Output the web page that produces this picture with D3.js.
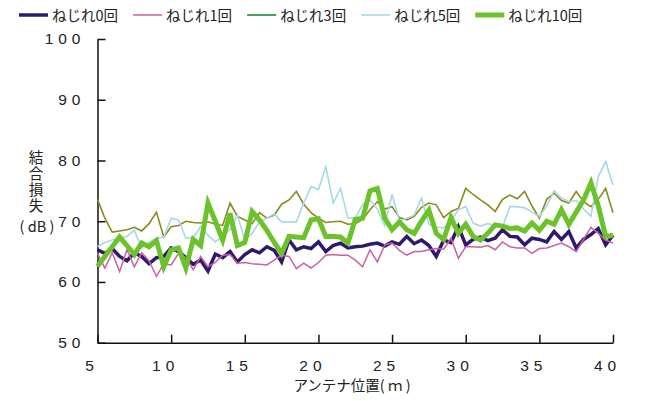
<!DOCTYPE html>
<html>
<head>
<meta charset="utf-8">
<script src="https://cdn.jsdelivr.net/npm/d3@7"></script>
<style>
  html, body { margin: 0; padding: 0; background: #ffffff; }
  svg { display: block; }
  .num { font-family: "Liberation Sans", Arial, sans-serif; font-size: 15.5px; letter-spacing: 5px; fill: #222; }
  .jp { font-family: "Noto Sans CJK JP", sans-serif; font-size: 14.5px; fill: #222; }
</style>
</head>
<body>
<svg id="chart" width="659" height="401"></svg>
<script>
// antenna position (m), one sample every 0.5 m
const positions = d3.range(71).map(i => 5 + i * 0.5);

const seriesNames = ["ねじれ0回", "ねじれ1回", "ねじれ3回", "ねじれ5回", "ねじれ10回"];

// coupling loss (dB) per twist count
const twist0 = [65.3,64.7,65.5,64.2,63.5,64.8,64.2,63.0,64.0,64.2,65.6,65.0,64.0,62.9,63.6,61.8,64.6,64.0,65.0,63.3,
  64.5,65.3,64.8,65.8,65.2,63.3,66.9,65.3,65.8,65.5,66.6,65.0,66.0,66.4,65.6,65.8,65.9,66.2,66.4,65.9,
  66.6,66.2,67.5,66.3,66.9,66.0,64.2,66.9,66.5,69.1,66.1,67.0,67.4,66.8,67.2,68.6,67.5,67.4,66.1,67.2,
  67.0,66.6,68.3,67.0,68.3,65.6,67.0,67.8,68.8,66.1,67.7];
const twist1 = [64.7,62.3,64.8,61.7,65.3,62.5,64.8,63.5,60.9,63.0,62.8,64.7,64.0,62.0,64.2,62.5,63.2,64.4,64.5,63.1,
  63.2,63.0,62.9,62.8,63.6,64.4,64.2,62.2,63.1,62.3,63.2,64.4,64.5,64.4,64.4,63.6,62.5,65.3,63.3,66.1,
  66.4,65.2,64.4,65.0,65.0,65.3,65.5,65.4,67.2,63.9,65.8,65.8,65.7,66.0,65.3,66.6,65.8,65.6,65.6,64.7,
  65.5,65.6,66.0,66.4,65.8,65.0,67.0,69.0,68.0,66.9,66.4];
const twist3 = [73.6,70.5,68.2,68.4,68.6,69.0,68.4,69.6,71.5,67.4,69.1,69.3,70.0,69.8,69.7,69.9,69.5,69.3,73.0,70.8,
  70.2,69.6,71.4,70.5,71.0,72.8,73.5,74.9,72.8,71.4,70.5,69.8,69.9,70.0,69.5,69.6,70.3,71.9,73.2,72.0,
  72.4,70.6,70.2,70.8,72.3,73.0,72.7,70.6,71.6,72.1,75.4,74.4,73.5,72.7,71.6,73.6,74.3,73.7,74.9,72.5,
  70.5,73.6,74.6,73.4,73.0,74.9,73.2,72.4,73.6,75.4,71.4];
const twist5 = [65.8,66.5,66.9,67.2,67.5,68.5,65.6,66.5,67.2,67.4,70.5,70.2,67.2,67.3,69.1,67.7,66.6,67.6,68.6,71.0,
  66.9,68.0,69.9,70.5,71.2,69.9,69.9,69.9,73.0,75.7,75.2,79.0,73.0,75.4,70.5,70.6,72.7,73.5,72.0,69.2,
  74.4,70.0,70.5,71.0,73.8,69.5,69.0,68.9,70.0,71.9,72.4,69.7,69.2,69.6,69.3,69.0,72.4,72.4,72.2,71.5,
  70.8,72.5,75.0,73.8,73.2,73.4,72.0,70.8,77.4,79.8,76.0];
const twist10 = [62.6,64.2,65.8,67.4,66.0,64.5,66.4,65.8,66.8,62.5,65.3,65.6,62.3,67.0,66.0,73.0,70.0,66.9,71.3,66.0,
  66.5,71.6,70.2,68.5,66.5,64.7,67.5,67.4,67.3,70.2,70.4,67.5,67.5,67.4,66.4,70.3,70.5,75.0,75.4,70.5,
  68.6,69.9,68.6,68.0,70.0,71.8,68.0,67.0,70.6,68.0,69.5,67.5,66.9,68.0,69.4,69.2,68.8,68.9,68.4,69.7,
  68.5,70.0,69.5,71.9,69.5,71.5,73.5,76.3,72.5,67.5,67.7];

const xTicks = [5, 10, 15, 20, 25, 30, 35, 40];
const yTicks = [50, 60, 70, 80, 90, 100];

const lineColors   = ["#2e1a6c", "#cc5ea6", "#8a8a1c", "#a6d8e8", "#6cc22a"];
const legendColors = ["#2e1a6c", "#cc5ea6", "#1f8a3a", "#a6d8e8", "#6cc22a"];
const lineWidths   = [3.5, 1.5, 1.6, 1.6, 5];

const seriesValues = [twist0, twist1, twist3, twist5, twist10];

const svg = d3.select("#chart");

const x = d3.scaleLinear().domain([5, 40]).range([97.5, 613]);
const y = d3.scaleLinear().domain([50, 100]).range([342.7, 39]);

// y axis, ticks pointing into the plot
const yAxis = svg.append("g")
  .attr("transform", `translate(${x(5)},0)`)
  .call(d3.axisLeft(y).tickValues(yTicks).tickSizeInner(-8).tickSizeOuter(0).tickPadding(12));
yAxis.select(".domain").attr("stroke", "#111").attr("stroke-width", 1.5);
yAxis.selectAll(".tick line").attr("stroke", "#111").attr("stroke-width", 1.5);
yAxis.selectAll(".tick text").attr("class", "num").attr("font-family", null).attr("font-size", null).attr("fill", null);

// x axis
const xAxis = svg.append("g")
  .attr("transform", `translate(0,${y(50)})`)
  .call(d3.axisBottom(x).tickValues(xTicks).tickSizeInner(-8).tickSizeOuter(0).tickPadding(17));
xAxis.select(".domain").attr("stroke", "#111").attr("stroke-width", 1.5);
xAxis.selectAll(".tick text").attr("class", "num").attr("font-family", null).attr("font-size", null).attr("fill", null)
  .attr("dx", -6);
xAxis.selectAll(".tick line").attr("stroke", "#111").attr("stroke-width", 1.5);

// series lines
const line = d3.line().x((d, i) => x(positions[i])).y(d => y(d));
seriesValues.forEach((vals, k) => {
  svg.append("path")
    .datum(vals)
    .attr("fill", "none")
    .attr("stroke", lineColors[k])
    .attr("stroke-width", lineWidths[k])
    .attr("stroke-linejoin", "miter")
    .attr("d", line);
});

// legend row
const legend = svg.append("g");
let lx = 19;
seriesNames.forEach((name, k) => {
  legend.append("line")
    .attr("x1", lx).attr("x2", lx + 29).attr("y1", 15).attr("y2", 15)
    .attr("stroke", legendColors[k]).attr("stroke-width", lineWidths[k]);
  const t = legend.append("text").attr("class", "jp")
    .attr("x", lx + 33).attr("y", 20.5).text(name);
  lx = lx + 33 + t.node().getComputedTextLength() + 15;
});

// axis titles
svg.append("text").attr("class", "jp").attr("font-size", 15)
  .attr("x", 352).attr("y", 391).attr("text-anchor", "middle")
  .text("アンテナ位置( ｍ )");

svg.append("text").attr("class", "jp").attr("font-size", 15)
  .attr("transform", "translate(36,150)")
  .style("writing-mode", "vertical-rl")
  .style("letter-spacing", "1.5px")
  .text("結合損失");
svg.append("text").attr("class", "jp").attr("font-size", 15)
  .attr("x", 37).attr("y", 232).attr("text-anchor", "middle").text("( dB )");
</script>
</body>
</html>
